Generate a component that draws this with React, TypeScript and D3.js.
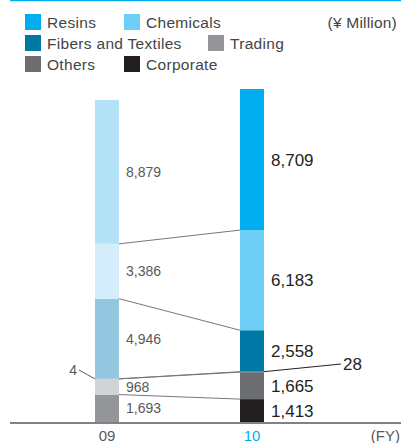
import React from "react";
import * as d3 from "d3";

const years = ["09", "10"];
const segments = ["Corporate", "Others", "Trading", "Fibers and Textiles", "Chemicals", "Resins"];
const values09 = [1693, 968, 4, 4946, 3386, 8879];
const values10 = [1413, 1665, 28, 2558, 6183, 8709];
const labels09 = ["1,693", "968", "4", "4,946", "3,386", "8,879"];
const labels10 = ["1,413", "1,665", "28", "2,558", "6,183", "8,709"];
const colors10 = ["#231f20", "#6d6e71", "#939598", "#0078a5", "#6dcff6", "#00aeef"];
const colors09 = ["#939598", "#d1d3d4", "#d1d3d4", "#93c7df", "#d4edfa", "#b4e3f8"];
const legendItems = ["Resins", "Chemicals", "Fibers and Textiles", "Trading", "Others", "Corporate"];
const legendColors = ["#00aeef", "#6dcff6", "#0078a5", "#939598", "#6d6e71", "#231f20"];

const W = 401;
const H = 443;
const FONT = "'Liberation Sans', Arial, sans-serif";

function stackOf(vals: number[]) {
  let acc = 0;
  return vals.map((v) => {
    const s = { y0: acc, y1: acc + v, v };
    acc += v;
    return s;
  });
}

export default function App() {
  const y = d3.scaleLinear().domain([0, 20556]).range([422, 89]);
  const x = d3.scalePoint<string>().domain(years).range([107, 252]);
  const bw = 24;
  const s09 = stackOf(values09);
  const s10 = stackOf(values10);
  const x09 = x("09")!;
  const x10 = x("10")!;

  const legendPos = [
    { x: 25, y: 14 },
    { x: 124, y: 14 },
    { x: 25, y: 35 },
    { x: 208, y: 35 },
    { x: 25, y: 56 },
    { x: 124, y: 56 },
  ];

  const boundaries = segments.map((_, i) => i).filter((i) => i < segments.length - 1);

  return (
    <svg width={W} height={H} style={{ position: "absolute", left: 0, top: 0 }} fontFamily={FONT}>
      <rect x={0} y={0} width={W} height={H} fill="#fff" />
      <line x1={10} x2={W} y1={0.5} y2={0.5} stroke="#00aeef" strokeWidth={1.5} />
      {legendItems.map((name, i) => (
        <g key={name}>
          <rect x={legendPos[i].x} y={legendPos[i].y} width={16} height={16} fill={legendColors[i]} />
          <text
            x={legendPos[i].x + 22}
            y={legendPos[i].y + 13.5}
            fontSize={15.5}
            letterSpacing={0.3}
            fill="#444"
          >
            {name}
          </text>
        </g>
      ))}
      <text x={397} y={27.5} fontSize={15.5} letterSpacing={0.2} fill="#444" textAnchor="end">
        (¥ Million)
      </text>

      {boundaries.map((i) => (
        <line
          key={"c" + i}
          x1={x09 + bw / 2}
          x2={x10 - bw / 2}
          y1={y(s09[i].y1)}
          y2={y(s10[i].y1)}
          stroke="#777"
          strokeWidth={1}
        />
      ))}

      {s09.map((s, i) => (
        <rect key={"a" + i} x={x09 - bw / 2} width={bw} y={y(s.y1)} height={y(s.y0) - y(s.y1)} fill={colors09[i]} />
      ))}
      {s10.map((s, i) => (
        <rect key={"b" + i} x={x10 - bw / 2} width={bw} y={y(s.y1)} height={y(s.y0) - y(s.y1)} fill={colors10[i]} />
      ))}

      {s09.map((s, i) =>
        segments[i] === "Trading" ? null : (
          <text key={"la" + i} x={126} y={(y(s.y0) + y(s.y1)) / 2 + 5} fontSize={14} fill="#58595b">
            {labels09[i]}
          </text>
        )
      )}
      {s10.map((s, i) =>
        segments[i] === "Trading" ? null : (
          <text key={"lb" + i} x={271} y={(y(s.y0) + y(s.y1)) / 2 + 6} fontSize={17} fill="#231f20">
            {labels10[i]}
          </text>
        )
      )}

      <line x1={79} y1={370} x2={x09 - bw / 2} y2={y(s09[2].y0)} stroke="#333" strokeWidth={0.8} />
      <text x={77} y={375} fontSize={14} fill="#58595b" textAnchor="end">
        {labels09[2]}
      </text>
      <line x1={x10 + bw / 2} y1={y(s10[2].y1)} x2={341} y2={364} stroke="#231f20" strokeWidth={1} />
      <text x={343} y={370} fontSize={17} fill="#231f20">
        {labels10[2]}
      </text>

      <line x1={10} x2={W} y1={423} y2={423} stroke="#808285" strokeWidth={2} />
      <text x={x09} y={441} fontSize={15} fill="#58595b" textAnchor="middle">
        {years[0]}
      </text>
      <text x={x10} y={441} fontSize={15} fill="#00aeef" textAnchor="middle">
        {years[1]}
      </text>
      <text x={400} y={441} fontSize={15} fill="#58595b" textAnchor="end">
        (FY)
      </text>
    </svg>
  );
}
